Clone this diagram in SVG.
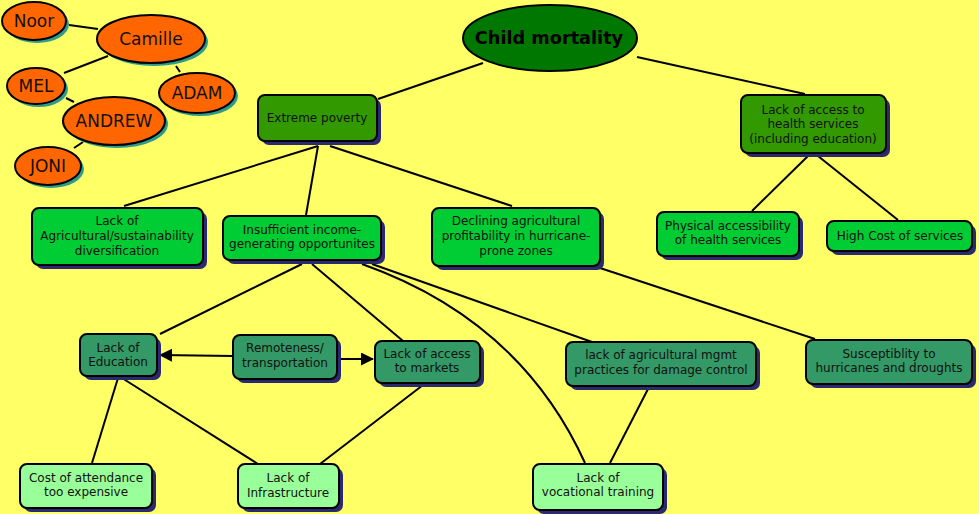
<svg xmlns="http://www.w3.org/2000/svg" width="979" height="514" viewBox="0 0 979 514">
<defs>
<marker id="arr" markerWidth="13" markerHeight="13" refX="12" refY="6.5" orient="auto" markerUnits="userSpaceOnUse">
<path d="M0,0 L13,6.5 L0,13 z" fill="#000"/>
</marker>
</defs>
<style>
.bg{fill:#FFFF66}
.c{stroke:#000;stroke-width:2;fill:none}
.sh{fill:#2A2A70}
.esh{fill:#2E9C8C}
.n{stroke:#000;stroke-width:2}
.dg{fill:#339900}
.bgn{fill:#00CC33}
.tg{fill:#339966}
.lg{fill:#99FF99}
.or{fill:#FF6600}
.t{font-family:"DejaVu Sans","Verdana",sans-serif;font-size:12px;fill:#111;text-anchor:middle}
.nm{font-family:"DejaVu Sans","Verdana",sans-serif;font-size:17px;fill:#111;text-anchor:middle}
.ttl{font-family:"DejaVu Sans","Verdana",sans-serif;font-size:17.7px;font-weight:bold;fill:#000;text-anchor:middle}
</style>
<rect class="bg" x="0" y="0" width="979" height="514"/>
<g id="connectors">
<line class="c" x1="69" y1="25" x2="98" y2="29"/>
<line class="c" x1="108" y1="56" x2="64" y2="73"/>
<line class="c" x1="176" y1="66" x2="180" y2="72"/>
<line class="c" x1="66" y1="98" x2="74" y2="102"/>
<line class="c" x1="83" y1="142" x2="74" y2="148"/>
<line class="c" x1="483" y1="63" x2="378" y2="99"/>
<line class="c" x1="637" y1="57" x2="805" y2="94"/>
<line class="c" x1="318" y1="146" x2="124" y2="206"/>
<line class="c" x1="318" y1="146" x2="306" y2="215"/>
<line class="c" x1="330" y1="146" x2="512" y2="206"/>
<line class="c" x1="808" y1="156" x2="752" y2="211"/>
<line class="c" x1="818" y1="156" x2="898" y2="220"/>
<line class="c" x1="302" y1="264" x2="160" y2="334"/>
<line class="c" x1="312" y1="264" x2="403" y2="341"/>
<line class="c" x1="372" y1="264" x2="592" y2="342"/>
<path class="c" d="M362,264 Q520,320 585,463"/>
<line class="c" x1="597" y1="267" x2="815" y2="339"/>
<line class="c" x1="233" y1="356" x2="160" y2="355" marker-end="url(#arr)"/>
<line class="c" x1="338" y1="359" x2="373" y2="359" marker-end="url(#arr)"/>
<line class="c" x1="118" y1="378" x2="92" y2="463"/>
<line class="c" x1="122" y1="378" x2="258" y2="464"/>
<line class="c" x1="423" y1="385" x2="320" y2="464"/>
<line class="c" x1="648" y1="389" x2="610" y2="463"/>
</g>
<g id="noor"><ellipse class="esh" cx="37" cy="24" rx="32" ry="19"/><ellipse class="n or" cx="34" cy="21" rx="32" ry="19"/><text class="nm" x="34" y="27">Noor</text></g>
<g id="camille"><ellipse class="esh" cx="154" cy="42" rx="54" ry="24"/><ellipse class="n or" cx="151" cy="39" rx="54" ry="24"/><text class="nm" x="151" y="45">Camille</text></g>
<g id="mel"><ellipse class="esh" cx="39" cy="89" rx="29" ry="18"/><ellipse class="n or" cx="36" cy="86" rx="29" ry="18"/><text class="nm" x="36" y="92">MEL</text></g>
<g id="adam"><ellipse class="esh" cx="200" cy="96" rx="38" ry="20"/><ellipse class="n or" cx="197" cy="93" rx="38" ry="20"/><text class="nm" x="197" y="99">ADAM</text></g>
<g id="andrew"><ellipse class="esh" cx="117" cy="124" rx="51" ry="24"/><ellipse class="n or" cx="114" cy="121" rx="51" ry="24"/><text class="nm" x="114" y="127">ANDREW</text></g>
<g id="joni"><ellipse class="esh" cx="51" cy="169" rx="33" ry="19"/><ellipse class="n or" cx="48" cy="166" rx="33" ry="19"/><text class="nm" x="48" y="172">JONI</text></g>
<g id="child-mortality"><ellipse class="n" fill="#007700" cx="550" cy="38" rx="87" ry="33"/><text class="ttl" x="549" y="44">Child mortality</text></g>
<g id="extreme-poverty"><rect class="sh" x="262" y="99" width="119" height="46" rx="7"/><rect class="n dg" x="258" y="95" width="119" height="46" rx="7"/><text class="t" x="317" y="122">Extreme poverty</text></g>
<g id="health"><rect class="sh" x="745" y="99" width="145" height="58" rx="7"/><rect class="n dg" x="741" y="95" width="145" height="58" rx="7"/><text class="t" x="813" y="114">Lack of access to</text><text class="t" x="813" y="128">health services</text><text class="t" x="813" y="143">(including education)</text></g>
<g id="agri-diversification"><rect class="sh" x="36" y="212" width="171" height="57" rx="7"/><rect class="n bgn" x="32" y="208" width="171" height="57" rx="7"/><text class="t" x="117" y="225">Lack of</text><text class="t" x="117" y="240">Agricultural/sustainability</text><text class="t" x="117" y="255">diversification</text></g>
<g id="insufficient-income"><rect class="sh" x="227" y="220" width="158" height="44" rx="7"/><rect class="n bgn" x="223" y="216" width="158" height="44" rx="7"/><text class="t" x="302" y="234">Insufficient income-</text><text class="t" x="302" y="248">generating opportunites</text></g>
<g id="declining"><rect class="sh" x="436" y="212" width="168" height="58" rx="7"/><rect class="n bgn" x="432" y="208" width="168" height="58" rx="7"/><text class="t" x="516" y="225">Declining agricultural</text><text class="t" x="516" y="240">profitability in hurricane-</text><text class="t" x="516" y="255">prone zones</text></g>
<g id="physical-access"><rect class="sh" x="661" y="216" width="142" height="44" rx="7"/><rect class="n bgn" x="657" y="212" width="142" height="44" rx="7"/><text class="t" x="728" y="230">Physical accessibility</text><text class="t" x="728" y="244">of health services</text></g>
<g id="high-cost"><rect class="sh" x="831" y="225" width="145" height="30" rx="7"/><rect class="n bgn" x="827" y="221" width="145" height="30" rx="7"/><text class="t" x="900" y="240">High Cost of services</text></g>
<g id="lack-education"><rect class="sh" x="84" y="338" width="77" height="42" rx="7"/><rect class="n tg" x="80" y="334" width="77" height="42" rx="7"/><text class="t" x="118" y="352">Lack of</text><text class="t" x="118" y="366">Education</text></g>
<g id="remoteness"><rect class="sh" x="237" y="339" width="104" height="44" rx="7"/><rect class="n tg" x="233" y="335" width="104" height="44" rx="7"/><text class="t" x="285" y="352">Remoteness/</text><text class="t" x="285" y="367">transportation</text></g>
<g id="access-markets"><rect class="sh" x="379" y="345" width="105" height="42" rx="7"/><rect class="n tg" x="375" y="341" width="105" height="42" rx="7"/><text class="t" x="427" y="358">Lack of access</text><text class="t" x="427" y="372">to markets</text></g>
<g id="agri-mgmt"><rect class="sh" x="570" y="346" width="190" height="44" rx="7"/><rect class="n tg" x="566" y="342" width="190" height="44" rx="7"/><text class="t" x="661" y="359">lack of agricultural mgmt</text><text class="t" x="661" y="374">practices for damage control</text></g>
<g id="susceptibility"><rect class="sh" x="810" y="344" width="166" height="44" rx="7"/><rect class="n tg" x="806" y="340" width="166" height="44" rx="7"/><text class="t" x="889" y="358">Susceptiblity to</text><text class="t" x="889" y="372">hurricanes and droughts</text></g>
<g id="cost-attendance"><rect class="sh" x="24" y="468" width="132" height="44" rx="7"/><rect class="n lg" x="20" y="464" width="132" height="44" rx="7"/><text class="t" x="86" y="482">Cost of attendance</text><text class="t" x="86" y="496">too expensive</text></g>
<g id="infrastructure"><rect class="sh" x="242" y="468" width="101" height="44" rx="7"/><rect class="n lg" x="238" y="464" width="101" height="44" rx="7"/><text class="t" x="288" y="482">Lack of</text><text class="t" x="288" y="497">Infrastructure</text></g>
<g id="vocational"><rect class="sh" x="537" y="468" width="130" height="46" rx="7"/><rect class="n lg" x="533" y="464" width="130" height="46" rx="7"/><text class="t" x="598" y="482">Lack of</text><text class="t" x="598" y="496">vocational training</text></g>
</svg>
